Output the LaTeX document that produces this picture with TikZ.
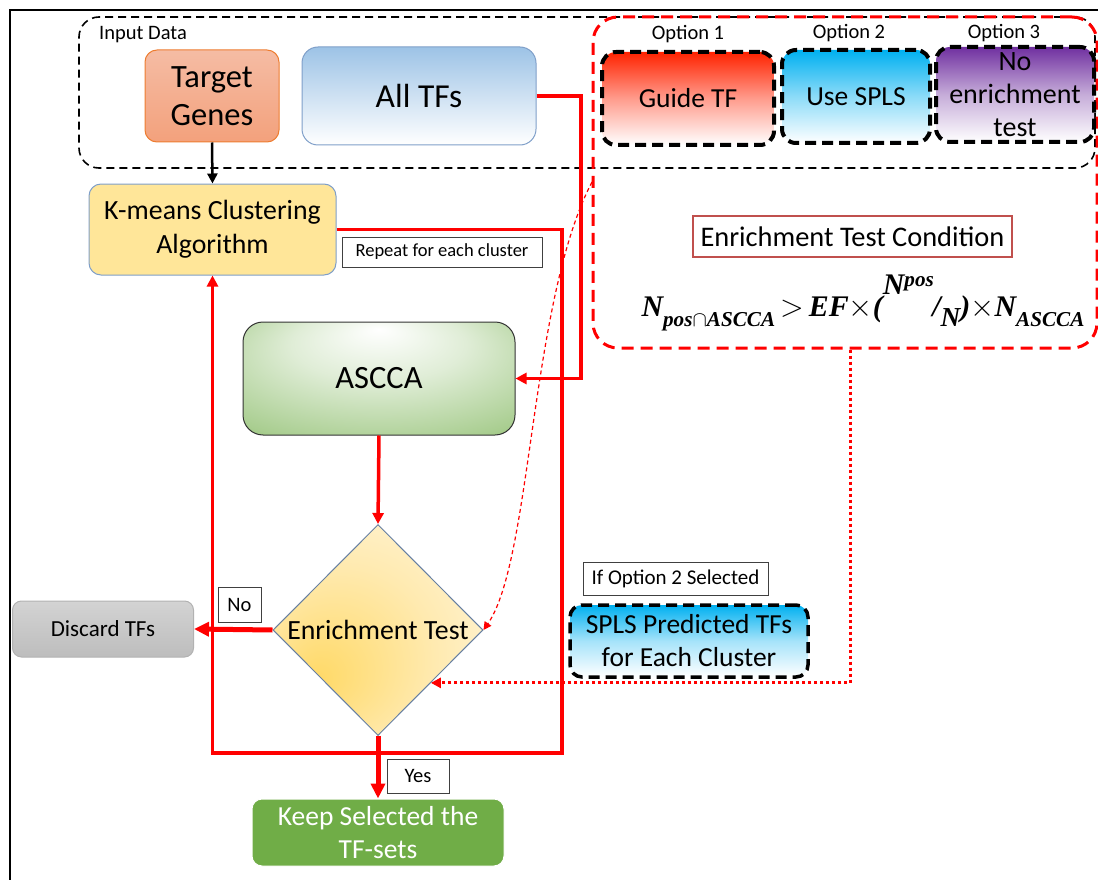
\documentclass[tikz,border=0pt]{standalone}
\usepackage{amsmath,graphicx}
\usepackage{fontspec}
\setmainfont{Carlito}
\newfontfamily\fmla{Liberation Serif}
\usetikzlibrary{shapes.geometric,arrows.meta,calc}

\definecolor{flowred}{HTML}{FF0000}
\definecolor{condred}{HTML}{C0504D}
\definecolor{boxedge}{HTML}{7F9FC9}
\definecolor{tgtop}{HTML}{F5BCA4}
\definecolor{tgbot}{HTML}{F3A17C}
\definecolor{tgedge}{HTML}{ED7D31}
\definecolor{tftop}{HTML}{9DC3E6}
\definecolor{kmfill}{HTML}{FFE699}
\definecolor{asG}{HTML}{70AD47}
\definecolor{keepG}{HTML}{70AD47}
\definecolor{guideR}{HTML}{FF2200}
\definecolor{splsC}{HTML}{00B0F0}
\definecolor{noP}{HTML}{7030A0}
\definecolor{dgrayT}{HTML}{D3D3D3}
\definecolor{dgrayB}{HTML}{BDBDBD}
\definecolor{etY}{HTML}{FFD966}
\definecolor{etYmid}{HTML}{FFEAB0}
\definecolor{etYout}{HTML}{FFFCF4}

\pgfdeclareradialshading{asccashade}{\pgfpoint{0bp}{22bp}}{%
  color(0bp)=(white); color(16bp)=(asG!22); color(36bp)=(asG!60); color(50bp)=(asG)}
\pgfdeclareradialshading{diamshade}{\pgfpoint{-15bp}{-12bp}}{%
  color(0bp)=(etY); color(22bp)=(etYmid); color(48bp)=(etYout); color(50bp)=(etYout)}

\newcommand{\fs}[2]{\fontsize{#1}{#2}\selectfont}
% lowered / raised pieces of the enrichment condition
\newcommand{\lo}[1]{\raisebox{-0.32em}{\fs{17}{17}#1}}

\tikzset{
  procbox/.style={rounded corners=12pt, line width=1pt, align=center, inner sep=0pt},
  optbox/.style={draw=black, line width=4pt, dash pattern=on 11pt off 6pt,
    rounded corners=14pt, align=center, inner sep=0pt},
  optlabel/.style={font=\fs{20.5}{24}, inner sep=0pt},
  tagbox/.style={draw=black!75, line width=1pt, fill=white, inner sep=0pt, font=\fs{18.5}{22}},
  redflow/.style={draw=flowred, line width=3.5pt, -{Triangle[length=11pt,width=11pt]}},
  redbold/.style={draw=flowred, line width=5pt, -{Triangle[length=15pt,width=14pt]}},
  reddash/.style={draw=flowred, line width=1.2pt, dash pattern=on 4pt off 3pt,
    -{Triangle[length=8pt,width=8pt]}},
  reddot/.style={draw=flowred, line width=3pt, dash pattern=on 3pt off 3pt,
    -{Triangle[length=10pt,width=10pt]}}
}

\begin{document}
\begin{tikzpicture}[x=1pt,y=-1pt]
\useasboundingbox (0,0) rectangle (1098,880);

% frame
\draw[line width=2pt] (10,880) -- (10,10) -- (1098,10);

% input data group
\node[draw=black, line width=1.6pt, dash pattern=on 8pt off 5pt, rounded corners=20pt,
  minimum width=1016pt, minimum height=151pt, inner sep=0pt] (input) at (587,92.5) {};
\node[anchor=west, font=\fs{20.5}{24}, inner sep=0pt] (inputlbl) at (99,35) {Input Data};

% options group
\node[draw=flowred, line width=3pt, dash pattern=on 12pt off 7pt, rounded corners=25pt,
  minimum width=504pt, minimum height=331pt, inner sep=0pt] (opts) at (845,182.5) {};

\node[optlabel] (o1lbl) at (688,34) {Option 1};
\node[optlabel] (o2lbl) at (849,33) {Option 2};
\node[optlabel] (o3lbl) at (1004,33) {Option 3};

\node[optbox, top color=guideR, bottom color=white, middle color=guideR!45,
  minimum width=172pt, minimum height=93pt, font=\fs{27.5}{33}] (o1) at (688,98.5) {Guide TF};
\node[optbox, top color=splsC, bottom color=white, middle color=splsC!45,
  minimum width=148pt, minimum height=93pt, font=\fs{27.5}{33}] (o2) at (856,96.5) {Use SPLS};
\node[optbox, top color=noP, bottom color=white, middle color=noP!40,
  minimum width=158pt, minimum height=95pt, font=\fs{28}{33}] (o3) at (1015,94.5) {No\\enrichment\\test};

\node[draw=condred, line width=1.2pt, minimum width=319pt, minimum height=41pt,
  inner sep=0pt, font=\fs{28.4}{32}] (cond) at (852.5,236.5) {Enrichment Test Condition};
\node[inner sep=0pt] (formula) at (863,303)
  {\resizebox{443pt}{!}{\fmla\bfseries\itshape\fs{24}{28}%
    N\lo{pos$\cap$ASCCA}\,$>$\,EF$\times$(\raisebox{0.72em}{N\raisebox{0.3em}{\fs{17}{17}pos}}\kern-0.05em/\lo{\fs{22}{22}N})$\times$N\lo{ASCCA}}};

% input boxes
\node[procbox, draw=tgedge, top color=tgtop, bottom color=tgbot,
  minimum width=134pt, minimum height=92pt, font=\fs{32.5}{38}] (tg) at (212,96) {Target\\Genes};
\node[procbox, draw=boxedge, top color=tftop, bottom color=white, rounded corners=16pt,
  minimum width=234pt, minimum height=98pt, font=\fs{33.5}{38}] (alltf) at (419,96) {All TFs};

% flow boxes
\node[procbox, draw=boxedge, fill=kmfill, minimum width=247pt, minimum height=91pt,
  font=\fs{27.8}{34}] (km) at (212.5,229.5) {K-means Clustering\\Algorithm};
\node[tagbox, minimum width=200pt, minimum height=30pt] (rep) at (442,252) {Repeat for each cluster};

\node[procbox, draw=black!80, shading=asccashade, rounded corners=20pt,
  minimum width=272pt, minimum height=113pt, font=\fs{32.5}{38}] (ascca) at (379,378.5) {ASCCA};

\node[diamond, draw=boxedge!80!black, line width=1pt, shading=diamshade,
  minimum width=210pt, minimum height=211pt, inner sep=0pt, font=\fs{27.8}{32}] (et) at (378,630) {Enrichment Test};

\node[procbox, draw=black!30, top color=dgrayT, bottom color=dgrayB, rounded corners=9pt,
  minimum width=181pt, minimum height=56pt, font=\fs{23}{27}] (disc) at (103,629) {Discard TFs};
\node[tagbox, minimum width=43pt, minimum height=35pt, font=\fs{20.5}{24}] (no) at (239.5,604.5) {No};
\node[tagbox, minimum width=62pt, minimum height=34pt, font=\fs{20.5}{24}] (yes) at (418,776) {Yes};
\node[procbox, draw=white, fill=keepG, text=white, rounded corners=10pt,
  minimum width=252pt, minimum height=67pt, font=\fs{27.5}{33}] (keep) at (378,832.5) {Keep Selected the\\TF-sets};

\node[tagbox, minimum width=185pt, minimum height=33pt, font=\fs{21}{24}] (ifopt) at (675.5,578.5) {If Option 2 Selected};
\node[draw=black, line width=3.5pt, dash pattern=on 11pt off 6pt, rounded corners=12pt,
  top color=splsC, bottom color=white, middle color=splsC!35, align=center, inner sep=0pt,
  minimum width=238pt, minimum height=72pt, font=\fs{27.5}{33}] (splsp) at (689,641) {SPLS Predicted TFs\\for Each Cluster};

% connectors
\coordinate (loopse) at (562,753);
\coordinate (tfturn) at (581,378.5);
\coordinate (dotx) at (850,0);
\coordinate (cstart) at (592,182);

\draw[line width=2.5pt, -{Triangle[length=10pt,width=10pt]}] (tg.south) -- (km.north);
\draw[redflow] (km.east) -| (loopse) -| (km.south);
\draw[redflow] (alltf.east) -| (tfturn) -- (ascca.east);
\draw[redflow] (ascca.south) -- (et.north);
\draw[redbold] (et.west) -- (disc.east);
\draw[redbold] (et.south) -- (keep.north);
\draw[reddash] (cstart) .. controls (530,300) and (532,560) .. (et.east);
\draw[reddot] (opts.south -| dotx) |- (et.-45);

\end{tikzpicture}
\end{document}
